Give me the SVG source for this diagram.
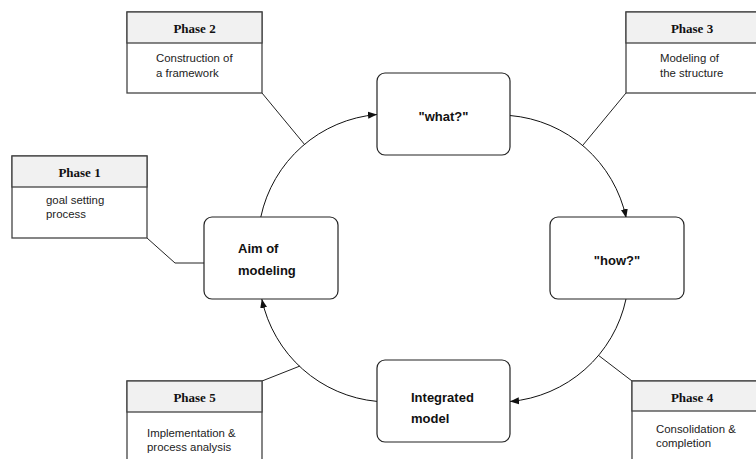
<svg xmlns="http://www.w3.org/2000/svg" width="756" height="459" viewBox="0 0 756 459">
<style>
.phase rect{stroke:#444;stroke-width:1.3}
.hdr{fill:#f1f1f1}
.body{fill:#fff}
.ph{font-family:"Liberation Serif",serif;font-weight:bold;font-size:13px;fill:#111;text-anchor:middle}
.tx{font-family:"Liberation Sans",Arial,sans-serif;font-size:11.4px;fill:#222}
.node rect{fill:#fff;stroke:#222;stroke-width:1.2}
.nt{font-family:"Liberation Sans",Arial,sans-serif;font-weight:bold;font-size:13px;fill:#111}
.arc{fill:none;stroke:#111;stroke-width:1}
.ln{fill:none;stroke:#222;stroke-width:1}
</style>
<defs>
<marker id="ah" markerWidth="10" markerHeight="8" refX="9" refY="4" orient="auto" markerUnits="userSpaceOnUse">
<path d="M0,0.5 L9,4 L0,7.5 Z" fill="#111"/>
</marker>
</defs>
<rect width="756" height="459" fill="#fff"/>

<g id="connectors">
<path class="arc" d="M 260.8 217 A 130 130 0 0 1 377 114.5" marker-end="url(#ah)"/>
<path class="arc" d="M 510 115.5 A 130 130 0 0 1 626.2 218" marker-end="url(#ah)"/>
<path class="arc" d="M 626 299 A 130 130 0 0 1 510 401.5" marker-end="url(#ah)"/>
<path class="arc" d="M 377 401.4 A 130 130 0 0 1 261.8 299" marker-end="url(#ah)"/>
<path class="ln" d="M147 238 L175 263 L204 263"/>
<path class="ln" d="M262 93 L305 145"/>
<path class="ln" d="M626 93 L583 145"/>
<path class="ln" d="M632 381 L598 355"/>
<path class="ln" d="M262 381 L300 366"/>
</g>

<g id="aim" class="node">
<rect x="204" y="217" width="134" height="82" rx="8"/>
<text class="nt" x="238" y="253">Aim of</text>
<text class="nt" x="238" y="275">modeling</text>
</g>
<g id="what" class="node">
<rect x="377" y="73" width="133" height="82" rx="8"/>
<text class="nt" x="443.5" y="121" text-anchor="middle">"what?"</text>
</g>
<g id="how" class="node">
<rect x="550" y="217" width="134" height="82" rx="8"/>
<text class="nt" x="617" y="265" text-anchor="middle">"how?"</text>
</g>
<g id="integrated" class="node">
<rect x="377" y="360" width="133" height="82" rx="8"/>
<text class="nt" x="411" y="402">Integrated</text>
<text class="nt" x="411" y="423">model</text>
</g>

<g id="phase1" class="phase">
<rect class="body" x="12" y="156" width="135" height="82"/>
<rect class="hdr" x="12" y="156" width="135" height="31"/>
<text class="ph" x="79.5" y="176.5">Phase 1</text>
<text class="tx" x="46" y="204">goal setting</text>
<text class="tx" x="46" y="218">process</text>
</g>
<g id="phase2" class="phase">
<rect class="body" x="127" y="12" width="135" height="81"/>
<rect class="hdr" x="127" y="12" width="135" height="31"/>
<text class="ph" x="194.5" y="32.5">Phase 2</text>
<text class="tx" x="156" y="62">Construction of</text>
<text class="tx" x="156" y="77">a framework</text>
</g>
<g id="phase3" class="phase">
<rect class="body" x="626" y="12" width="135" height="81"/>
<rect class="hdr" x="626" y="12" width="135" height="31"/>
<text class="ph" x="692" y="32.5">Phase 3</text>
<text class="tx" x="660" y="62">Modeling of</text>
<text class="tx" x="660" y="77">the structure</text>
</g>
<g id="phase4" class="phase">
<rect class="body" x="632" y="381" width="135" height="90"/>
<rect class="hdr" x="632" y="381" width="135" height="30"/>
<text class="ph" x="692" y="401.5">Phase 4</text>
<text class="tx" x="656" y="433">Consolidation &amp;</text>
<text class="tx" x="656" y="447">completion</text>
</g>
<g id="phase5" class="phase">
<rect class="body" x="127" y="381" width="135" height="90"/>
<rect class="hdr" x="127" y="381" width="135" height="31"/>
<text class="ph" x="194.5" y="402">Phase 5</text>
<text class="tx" x="147" y="437">Implementation &amp;</text>
<text class="tx" x="147" y="451">process analysis</text>
</g>
</svg>
